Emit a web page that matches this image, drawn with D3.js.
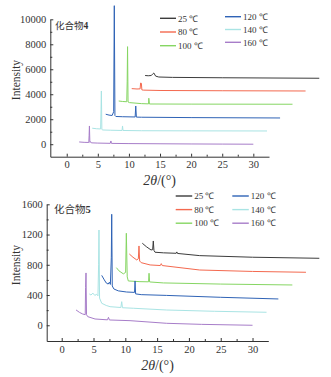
<!DOCTYPE html>
<html>
<head>
<meta charset="utf-8">
<script src="https://cdn.jsdelivr.net/npm/d3@7"></script>
<style>
body { margin: 0; background: #fff; }
text { font-family: "Liberation Serif", "Times New Roman", serif; fill: #333; }
.axis path, .axis line { stroke: #333; }
.axis text { font-family: "Liberation Serif", serif; font-size: 10.5px; fill: #333; }
</style>
</head>
<body>
<div id="chart-area"></div>
<script>
// legend names and colours
var names = ["25 ℃", "80 ℃", "100 ℃", "120 ℃", "140 ℃", "160 ℃"];
var colors = ["#3c3c3c", "#f4694f", "#86d663", "#2f63b6", "#a9e4e4", "#a77dc9"];

var xTicks = [0, 5, 10, 15, 20, 25, 30];
var xMinor = [2.5, 7.5, 12.5, 17.5, 22.5, 27.5];
var yTicks4 = [0, 2000, 4000, 6000, 8000, 10000];
var yMinor4 = [1000, 3000, 5000, 7000, 9000];
var yTicks5 = [0, 400, 800, 1200, 1600];
var yMinor5 = [200, 600, 1000, 1400];

// compound 4, stacked traces [2theta, intensity] as drawn
var c4_25 = [[12.6,5500],[13.1,5480],[13.6,5500],[13.85,5640],[14.0,5700],[14.3,5450],[14.8,5380],[17,5350],[25,5320],[40.6,5280]];
var c4_80 = [[10.45,4450],[11.3,4420],[11.8,4430],[11.88,4900],[12.0,4880],[12.08,4350],[12.3,4330],[15,4300],[25,4280],[38.4,4260]];
var c4_100 = [[8.36,3460],[9.0,3420],[9.65,3400],[9.72,5000],[9.78,7810],[9.86,3380],[10.1,3330],[12,3250],[13.15,3230],[13.2,3680],[13.3,3220],[20,3210],[36.3,3200]];
var c4_120 = [[6.27,2400],[6.8,2330],[7.3,2300],[7.55,2600],[7.65,11090],[7.75,2300],[7.9,2220],[9,2200],[11.0,2180],[11.1,3060],[11.2,2170],[12,2160],[20,2130],[34.3,2100]];
var c4_140 = [[4.1,1280],[4.8,1240],[5.45,1220],[5.52,2800],[5.57,4260],[5.65,1180],[5.8,1140],[7,1120],[8.9,1100],[8.97,1460],[9.05,1100],[12,1080],[20,1070],[32.2,1060]];
var c4_160 = [[2.0,180],[2.8,150],[3.55,140],[3.6,700],[3.65,1460],[3.72,140],[3.85,200],[3.95,110],[5,90],[7.0,70],[7.1,260],[7.2,65],[10,50],[15,35],[20,20],[25,10],[30,0]];

// compound 5
var c5_25 = [[12.67,1085],[13.3,1040],[14.04,996],[14.3,1000],[14.4,1115],[14.5,990],[14.67,966],[16,958],[18.0,952],[18.1,970],[18.2,950],[21.7,921],[30,900],[40.5,886]];
var c5_80 = [[10.63,943],[11.2,900],[11.8,864],[12.05,880],[12.15,1049],[12.25,850],[12.5,828],[13.9,798],[15.5,790],[15.65,815],[15.8,790],[21.7,731],[30,712],[38.4,701]];
var c5_100 = [[8.6,762],[9.0,720],[9.69,680],[10.05,700],[10.16,1217],[10.3,640],[10.47,586],[12.3,577],[13.65,575],[13.73,688],[13.82,573],[16,560],[25,545],[36.26,533]];
var c5_120 = [[6.29,660],[6.7,600],[7.0,560],[7.3,545],[7.5,570],[7.65,540],[7.8,900],[7.86,1468],[7.95,520],[8.2,480],[8.9,455],[10.2,440],[11.45,435],[11.53,586],[11.62,415],[12.5,405],[16.5,395],[25,370],[34.06,348]];
var c5_140 = [[4.34,414],[4.6,400],[4.9,425],[5.2,395],[5.5,410],[5.7,390],[5.8,800],[5.86,1260],[5.95,360],[6.29,291],[7.0,262],[7.6,246],[9.3,235],[9.43,312],[9.55,232],[11.26,225],[16.5,202],[24,185],[32.2,172]];
var c5_160 = [[2.25,203],[2.8,170],[3.3,149],[3.7,140],[3.75,500],[3.82,692],[3.9,140],[4.09,114],[5.24,83],[7.2,72],[7.35,105],[7.5,70],[10.74,61],[16.5,26],[22,12],[30,0]];

var svg = d3.select("#chart-area").append("svg")
    .attr("width", 331).attr("height", 377);

function drawPanel(p) {
    var x = d3.scaleLinear().domain(p.xDomain).range(p.xRange);
    var y = d3.scaleLinear().domain(p.yDomain).range(p.yRange);
    var g = svg.append("g");

    var line = d3.line()
        .x(function(d) { return x(d[0]); })
        .y(function(d) { return y(d[1]); });

    g.selectAll("path.trace").data(p.series).enter().append("path")
        .attr("class", "trace")
        .attr("d", line)
        .attr("fill", "none")
        .attr("stroke", function(d, i) { return colors[i]; })
        .attr("stroke-width", 1)
        .attr("stroke-linejoin", "round");

    // axes, ticks pointing inward
    var xAxis = d3.axisBottom(x).tickValues(xTicks).tickSizeInner(-3).tickSizeOuter(0).tickPadding(p.xPad);
    g.append("g").attr("class", "axis")
        .attr("transform", "translate(0," + p.yRange[0] + ")")
        .call(xAxis);
    g.append("g").attr("class", "axis")
        .attr("transform", "translate(0," + p.yRange[0] + ")")
        .call(d3.axisBottom(x).tickValues(xMinor).tickSizeInner(-2).tickSizeOuter(0).tickFormat(""))
        .select(".domain").remove();

    var yAxis = d3.axisLeft(y).tickValues(p.yTicks).tickFormat(d3.format("d"))
        .tickSizeInner(-3).tickSizeOuter(0).tickPadding(4);
    g.append("g").attr("class", "axis")
        .attr("transform", "translate(" + p.xRange[0] + ",0)")
        .call(yAxis);
    g.append("g").attr("class", "axis")
        .attr("transform", "translate(" + p.xRange[0] + ",0)")
        .call(d3.axisLeft(y).tickValues(p.yMinor).tickSizeInner(-2).tickSizeOuter(0).tickFormat(""))
        .select(".domain").remove();

    // axis titles
    var xt = g.append("text")
        .attr("x", (p.xRange[0] + p.xRange[1]) / 2)
        .attr("y", p.xTitleY)
        .attr("text-anchor", "middle")
        .attr("font-size", "14px");
    xt.append("tspan").attr("font-style", "italic").text("2θ");
    xt.append("tspan").text("/(°)");

    g.append("text")
        .attr("transform", "translate(" + p.yTitleX + "," + p.yTitleY + ") rotate(-90)")
        .attr("text-anchor", "middle")
        .attr("font-size", "11.5px")
        .text("Intensity");

    // compound label
    var lab = g.append("text")
        .attr("x", p.label[0]).attr("y", p.label[1])
        .attr("font-size", p.labelSize);
    lab.append("tspan").attr("font-family", "'Noto Sans CJK SC', sans-serif").text("化合物");
    lab.append("tspan").attr("font-weight", "bold").text(p.labelNum);

    // legend: two columns of three
    var leg = g.selectAll("g.leg").data(names).enter().append("g")
        .attr("class", "leg")
        .attr("transform", function(d, i) {
            var c = i < 3 ? 0 : 1, r = i % 3;
            return "translate(" + p.legX[c] + "," + (p.legY[c] + r * p.legStep[c]) + ")";
        });
    leg.append("line")
        .attr("x1", 0).attr("x2", p.legLen)
        .attr("stroke", function(d, i) { return colors[i]; })
        .attr("stroke-width", 1.4);
    leg.append("text")
        .attr("x", p.legLen + 2).attr("y", 3.2)
        .attr("font-size", "9px")
        .text(function(d) { return d; });
}

drawPanel({
    series: [c4_25, c4_80, c4_100, c4_120, c4_140, c4_160],
    xDomain: [-2.64, 32.52], xRange: [50.3, 269],
    yDomain: [-1000, 10000], yRange: [156.7, 19.3],
    yTicks: yTicks4, yMinor: yMinor4, xPad: 4,
    xTitleY: 185, yTitleX: 20, yTitleY: 80,
    label: [55, 28.5], labelSize: "9.5px", labelNum: "4",
    legX: [160, 225], legY: [18.3, 16.7], legStep: [13.7, 12.8], legLen: 16
});

drawPanel({
    series: [c5_25, c5_80, c5_100, c5_120, c5_140, c5_160],
    xDomain: [-2.36, 32.48], xRange: [46.7, 268.3],
    yDomain: [-208, 1600], yRange: [341, 204.3],
    yTicks: yTicks5, yMinor: yMinor5, xPad: 5,
    xTitleY: 370, yTitleX: 20, yTitleY: 265,
    label: [54, 213], labelSize: "10.5px", labelNum: "5",
    legX: [175.7, 232.3], legY: [196, 196], legStep: [13.6, 13.6], legLen: 16.5
});
</script>
</body>
</html>
